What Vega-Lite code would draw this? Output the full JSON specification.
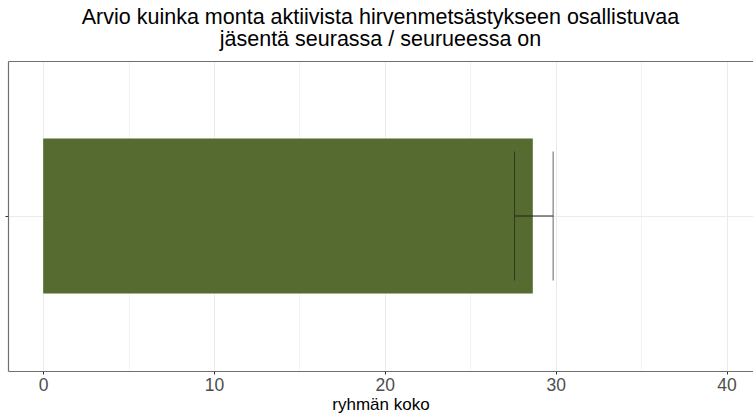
{
  "$schema": "https://vega.github.io/schema/vega-lite/v6.json",
  "autosize": {"type": "none"},
  "padding": {"left": 8, "top": 61, "right": 0, "bottom": 45},
  "width": 745,
  "height": 310,
  "background": "white",
  "title": {
    "text": ["Arvio kuinka monta aktiivista hirvenmetsästykseen osallistuvaa", "jäsentä seurassa / seurueessa on"],
    "anchor": "middle",
    "frame": "group",
    "font": "Liberation Sans",
    "fontSize": 21.5,
    "fontWeight": "normal",
    "color": "black",
    "lineHeight": 22,
    "offset": 11
  },
  "config": {
    "view": {"stroke": null},
    "font": "Liberation Sans"
  },
  "data": {
    "values": [
      {"ryhma": "seura", "keskiarvo": 28.66, "ala": 27.59, "yla": 29.85}
    ]
  },
  "encoding": {
    "y": {
      "field": "ryhma",
      "type": "nominal",
      "scale": {"paddingInner": 0, "paddingOuter": 0.5},
      "axis": {
        "title": null,
        "labels": false,
        "domain": true,
        "domainColor": "#6f6f6f",
        "domainWidth": 1.2,
        "ticks": true,
        "tickSize": 3,
        "tickColor": "#333333",
        "grid": true,
        "gridColor": "#ebebeb",
        "bandPosition": 0.5
      }
    }
  },
  "layer": [
    {
      "mark": {"type": "bar", "color": "#556B2F"},
      "encoding": {
        "x": {
          "field": "keskiarvo",
          "type": "quantitative",
          "scale": {"domain": [-2.06, 41.55], "nice": false, "zero": false},
          "axis": {
            "orient": "bottom",
            "title": "ryhmän koko",
            "titleFont": "Liberation Sans",
            "titleFontSize": 17,
            "titleFontWeight": "normal",
            "titleColor": "black",
            "titlePadding": 3,
            "values": [0, 5, 10, 15, 20, 25, 30, 35, 40],
            "labelExpr": "datum.value % 10 === 0 ? datum.label : ''",
            "labelFont": "Liberation Sans",
            "labelFontSize": 17.5,
            "labelColor": "#4d4d4d",
            "labelPadding": 2,
            "tickSize": 3,
            "tickColor": "#333333",
            "tickOpacity": {"condition": {"test": "datum.value % 10 !== 0", "value": 0}, "value": 1},
            "domain": true,
            "domainColor": "#6f6f6f",
            "domainWidth": 1.2,
            "grid": true,
            "gridColor": {"condition": {"test": "datum.value % 10 !== 0", "value": "#f3f3f3"}, "value": "#ebebeb"}
          }
        },
        "x2": {"datum": 0}
      }
    },
    {
      "mark": {"type": "rule", "color": "#222222", "strokeWidth": 1},
      "encoding": {
        "x": {
          "field": "ala",
          "type": "quantitative",
          "axis": {
            "orient": "top",
            "title": null,
            "labels": false,
            "ticks": false,
            "grid": false,
            "domain": true,
            "domainColor": "#6f6f6f",
            "domainWidth": 1.2
          }
        },
        "x2": {"field": "yla"}
      }
    },
    {
      "mark": {"type": "tick", "color": "#222222", "thickness": 1, "size": 129, "orient": "vertical"},
      "encoding": {"x": {"field": "ala", "type": "quantitative", "axis": null}}
    },
    {
      "mark": {"type": "tick", "color": "#222222", "thickness": 1, "size": 129, "orient": "vertical"},
      "encoding": {"x": {"field": "yla", "type": "quantitative", "axis": null}}
    }
  ],
  "resolve": {"axis": {"x": "independent"}}
}
